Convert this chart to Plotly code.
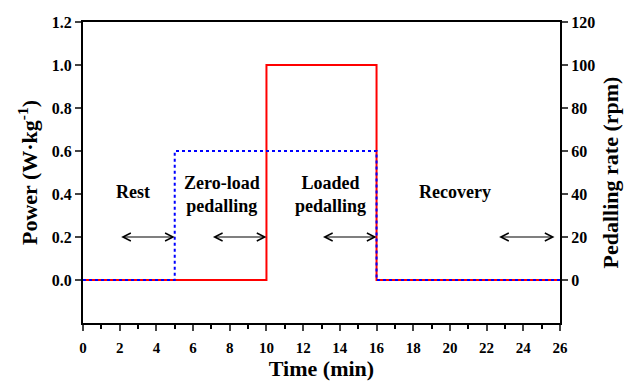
import plotly.graph_objects as go

# Data
time_power = [0, 10, 10, 16, 16, 26]
power = [0, 0, 1.0, 1.0, 0, 0]
time_cad = [0, 5, 5, 16, 16, 26]
cadence = [0, 0, 60, 60, 0, 0]

x_ticks = list(range(0, 27, 2))
y_ticks = [0.0, 0.2, 0.4, 0.6, 0.8, 1.0, 1.2]
y_tick_labels = ["0.0", "0.2", "0.4", "0.6", "0.8", "1.0", "1.2"]
y2_ticks = [0, 20, 40, 60, 80, 100, 120]

phase_labels = ["Rest", "Zero-load<br>pedalling", "Loaded<br>pedalling", "Recovery"]
phase_label_x = [2.75, 7.6, 13.5, 20.3]
phase_label_y = [0.41, 0.40, 0.40, 0.41]
arrow_start = [2.0, 7.0, 13.0, 22.6]
arrow_end = [5.0, 10.0, 16.0, 25.7]
arrow_y = 0.2

FONT = "Liberation Serif"

fig = go.Figure()
fig.add_trace(go.Scatter(x=time_power, y=power, mode="lines",
                         line=dict(color="#ff0000", width=2), yaxis="y", showlegend=False))
fig.add_trace(go.Scatter(x=time_cad, y=cadence, mode="lines",
                         line=dict(color="#0000ff", width=2, dash="dot"), yaxis="y2", showlegend=False))

annotations = []
for t, x, y in zip(phase_labels, phase_label_x, phase_label_y):
    annotations.append(dict(x=x, y=y, xref="x", yref="y", text="<b>%s</b>" % t, showarrow=False,
                            font=dict(family=FONT, size=18, color="black"), align="center"))
for s, e in zip(arrow_start, arrow_end):
    annotations.append(dict(x=e, y=arrow_y, ax=s, ay=arrow_y, xref="x", yref="y",
                            axref="x", ayref="y", text="", showarrow=True,
                            arrowhead=5, startarrowhead=5, arrowside="end+start",
                            arrowsize=1.3, startarrowsize=1.3, arrowwidth=1.2, arrowcolor="black"))

fig.update_layout(
    width=633, height=383,
    margin=dict(l=83, r=73, t=22, b=60),
    plot_bgcolor="white", paper_bgcolor="white",
    font=dict(family=FONT, color="black"),
    annotations=annotations,
    xaxis=dict(range=[0, 26], tickvals=x_ticks, ticktext=["<b>%d</b>" % v for v in x_ticks],
               ticks="outside", ticklen=6, tickwidth=2, ticklabelstandoff=4, automargin=False,
               showline=True, linecolor="black", linewidth=2, mirror=True,
               showgrid=False, zeroline=False,
               tickfont=dict(family=FONT, size=15, color="black"),
               minor=dict(dtick=1, ticks="outside", ticklen=4, tickwidth=2, tickcolor="black", showgrid=False),
               title=dict(text="<b>Time (min)</b>", font=dict(family=FONT, size=22, color="black"), standoff=3)),
    yaxis=dict(range=[-0.2, 1.2], tickvals=y_ticks, ticktext=["<b>%s</b>" % s for s in y_tick_labels],
               ticks="outside", ticklen=6, tickwidth=2, automargin=False,
               showline=True, linecolor="black", linewidth=2, showgrid=False, zeroline=False,
               tickfont=dict(family=FONT, size=16, color="black"),
               title=dict(text="<b>Power (W·kg<sup>-1</sup>)</b>", font=dict(family=FONT, size=22, color="black"), standoff=8)),
    yaxis2=dict(range=[-20, 120], tickvals=y2_ticks, ticktext=["<b>%d</b>" % v for v in y2_ticks],
                overlaying="y", side="right", automargin=False,
                ticks="outside", ticklen=6, tickwidth=2,
                showline=True, linecolor="black", linewidth=2, showgrid=False, zeroline=False,
                tickfont=dict(family=FONT, size=16, color="black"),
                title=dict(text="<b>Pedalling rate (rpm)</b>", font=dict(family=FONT, size=22, color="black"), standoff=8)),
)

fig.write_html("out.html")
